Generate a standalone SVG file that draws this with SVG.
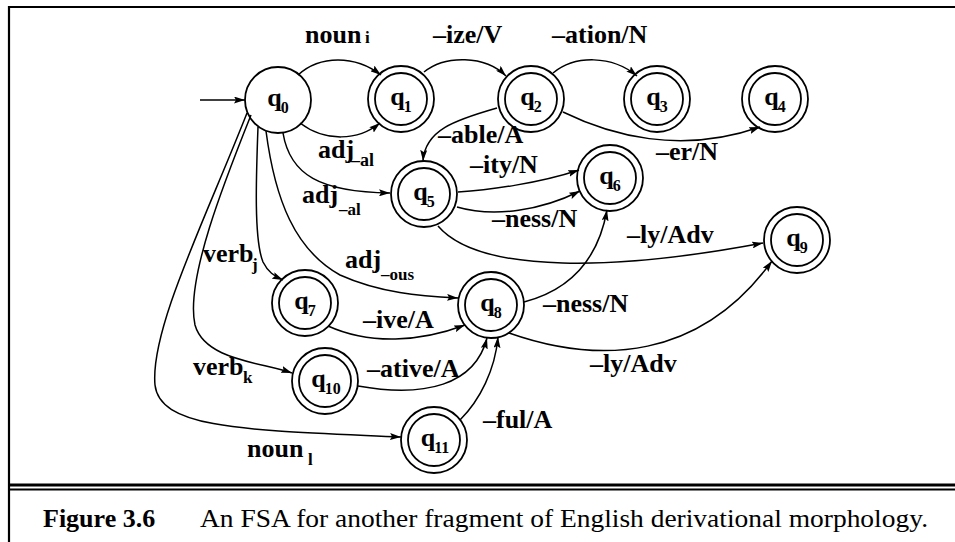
<svg xmlns="http://www.w3.org/2000/svg" width="955" height="542" viewBox="0 0 955 542">
<style>
.n{fill:none;stroke:#000;stroke-width:1.8}
.e{fill:none;stroke:#000;stroke-width:1.5;marker-end:url(#ah)}
.lb{font-family:"Liberation Serif","Times New Roman",serif;font-weight:bold;font-size:26px;fill:#000}
.sb{font-size:17px}
.ql{font-family:"Liberation Serif","Times New Roman",serif;font-weight:bold;font-size:26px;fill:#000;text-anchor:middle}
.qs{font-size:16px}
.frame{stroke:#000;fill:none}
.cap{font-family:"Liberation Serif","Times New Roman",serif;font-size:26px;fill:#000}
</style>
<defs>
<marker id="ah" viewBox="0 0 11 7" refX="11" refY="3.5" markerWidth="11" markerHeight="7" markerUnits="userSpaceOnUse" orient="auto">
<path d="M0,0 L11,3.5 L0,7 L2,3.5 z" fill="#000"/>
</marker>
</defs>
<rect width="955" height="542" fill="#fff"/>
<g id="frame">
<line class="frame" x1="9" y1="7" x2="955" y2="7" stroke-width="2.2"/>
<line class="frame" x1="9" y1="6" x2="9" y2="542" stroke-width="2.2"/>
<line class="frame" x1="9" y1="485" x2="955" y2="485" stroke-width="3"/>
<line class="frame" x1="9" y1="489.5" x2="955" y2="489.5" stroke-width="1.8"/>
</g>
<g id="connectors">
<path class="e" d="M200,100 L245,100"/>
<path class="e" d="M298,75 C320,55 355,55 381,75"/>
<path class="e" d="M300,123 C325,142 358,141 380,123"/>
<path class="e" d="M424,72 C445,55 485,55 506,76"/>
<path class="e" d="M553,73 C575,55 612,55 637,76"/>
<path class="e" d="M563,112 C610,135 680,155 760,127"/>
<path class="e" d="M497,108 C455,120 425,130 423,161"/>
<path class="e" d="M283,133 C290,175 320,192 390,193"/>
<path class="e" d="M458,192 C490,190 540,183 579,170"/>
<path class="e" d="M457,207 C495,218 542,210 580,191"/>
<path class="e" d="M438,226 C480,275 620,270 763,243"/>
<path class="e" d="M524,302 C570,290 598,260 607,210"/>
<path class="e" d="M509,333 C600,365 700,360 772,261"/>
<path class="e" d="M247,113 C205,220 150,330 155,385 C160,430 250,430 401,437"/>
<path class="e" d="M251,115 C225,180 185,280 195,325 C205,360 260,362 292,373"/>
<path class="e" d="M258,127 C256,180 254,240 263,262 C268,272 274,276 283,280"/>
<path class="e" d="M266,131 C275,200 295,250 340,275 C380,293 420,296 458,298"/>
<path class="e" d="M328,326 C370,345 420,342 465,325"/>
<path class="e" d="M358,386 C425,398 475,385 487,338"/>
<path class="e" d="M460,420 C480,400 495,370 498,337"/>
</g>
<g id="edge-labels">
<text class="lb" x="305" y="43">noun<tspan class="sb" x="365" y="43">i</tspan></text>
<text class="lb" x="433" y="43">–ize/V</text>
<text class="lb" x="552" y="43">–ation/N</text>
<text class="lb" x="438" y="143">–able/A</text>
<text class="lb" x="318" y="158">adj<tspan font-size="18" x="351" y="166">–al</tspan></text>
<text class="lb" x="656" y="160">–er/N</text>
<text class="lb" x="470" y="173">–ity/N</text>
<text class="lb" x="302" y="203">adj<tspan class="sb" x="339" y="215">–al</tspan></text>
<text class="lb" x="492" y="227">–ness/N</text>
<text class="lb" x="627" y="243">–ly/Adv</text>
<text class="lb" x="203" y="262">verb<tspan class="sb" x="252" y="270">j</tspan></text>
<text class="lb" x="345" y="268">adj<tspan class="sb" x="381" y="280">–ous</tspan></text>
<text class="lb" x="543" y="312">–ness/N</text>
<text class="lb" x="363" y="328">–ive/A</text>
<text class="lb" x="590" y="372">–ly/Adv</text>
<text class="lb" x="193" y="375">verb<tspan class="sb" x="243" y="383">k</tspan></text>
<text class="lb" x="367" y="377">–ative/A</text>
<text class="lb" x="483" y="428">–ful/A</text>
<text class="lb" x="247" y="457">noun<tspan class="sb" x="308" y="465">l</tspan></text>
</g>
<g id="q0"><circle class="n" cx="278" cy="100" r="33"/><text class="ql" x="278" y="106">q<tspan class="qs" dx="-1" dy="7">0</tspan></text></g>
<g id="q1"><circle class="n" cx="401" cy="99" r="33"/><circle class="n" cx="401" cy="99" r="26"/><text class="ql" x="401" y="105">q<tspan class="qs" dx="-1" dy="7">1</tspan></text></g>
<g id="q2"><circle class="n" cx="531" cy="99" r="33"/><circle class="n" cx="531" cy="99" r="26"/><text class="ql" x="531" y="105">q<tspan class="qs" dx="-1" dy="7">2</tspan></text></g>
<g id="q3"><circle class="n" cx="657" cy="99" r="33"/><circle class="n" cx="657" cy="99" r="26"/><text class="ql" x="657" y="105">q<tspan class="qs" dx="-1" dy="7">3</tspan></text></g>
<g id="q4"><circle class="n" cx="775" cy="99" r="33"/><circle class="n" cx="775" cy="99" r="26"/><text class="ql" x="775" y="105">q<tspan class="qs" dx="-1" dy="7">4</tspan></text></g>
<g id="q5"><circle class="n" cx="424" cy="194" r="33"/><circle class="n" cx="424" cy="194" r="26"/><text class="ql" x="424" y="200">q<tspan class="qs" dx="-1" dy="7">5</tspan></text></g>
<g id="q6"><circle class="n" cx="610" cy="178" r="33"/><circle class="n" cx="610" cy="178" r="26"/><text class="ql" x="610" y="184">q<tspan class="qs" dx="-1" dy="7">6</tspan></text></g>
<g id="q7"><circle class="n" cx="305" cy="303" r="33"/><circle class="n" cx="305" cy="303" r="26"/><text class="ql" x="305" y="309">q<tspan class="qs" dx="-1" dy="7">7</tspan></text></g>
<g id="q8"><circle class="n" cx="491" cy="305" r="33"/><circle class="n" cx="491" cy="305" r="26"/><text class="ql" x="491" y="311">q<tspan class="qs" dx="-1" dy="7">8</tspan></text></g>
<g id="q9"><circle class="n" cx="797" cy="240" r="33"/><circle class="n" cx="797" cy="240" r="26"/><text class="ql" x="797" y="246">q<tspan class="qs" dx="-1" dy="7">9</tspan></text></g>
<g id="q10"><circle class="n" cx="325" cy="381" r="33"/><circle class="n" cx="325" cy="381" r="26"/><text class="ql" x="326" y="387">q<tspan class="qs" dx="-1" dy="7">10</tspan></text></g>
<g id="q11"><circle class="n" cx="434" cy="440" r="33"/><circle class="n" cx="434" cy="440" r="26"/><text class="ql" x="435" y="446">q<tspan class="qs" dx="-1" dy="7">11</tspan></text></g>
<g id="caption">
<text class="cap" x="43" y="527" font-weight="bold">Figure 3.6</text>
<text class="cap" x="200" y="527" textLength="728" lengthAdjust="spacingAndGlyphs">An FSA for another fragment of English derivational morphology.</text>
</g>
</svg>
